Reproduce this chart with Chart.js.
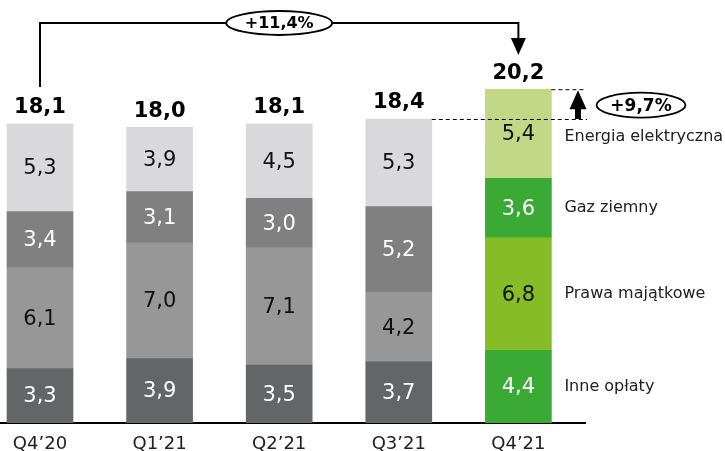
<!DOCTYPE html>
<html><head><meta charset="utf-8">
<script src="https://cdn.jsdelivr.net/npm/chart.js@4"></script>
<style>html,body{margin:0;padding:0;background:#fff;overflow:hidden}</style>
</head><body>
<canvas id="c" width="725" height="451"></canvas>
<script>
const categories = ["Q4’20", "Q1’21", "Q2’21", "Q3’21", "Q4’21"];
const inneOplaty = [3.3, 3.9, 3.5, 3.7, 4.4];
const prawaMajatkowe = [6.1, 7.0, 7.1, 4.2, 6.8];
const gazZiemny = [3.4, 3.1, 3.0, 5.2, 3.6];
const energiaElektryczna = [5.3, 3.9, 4.5, 5.3, 5.4];
const totals = [18.1, 18.0, 18.1, 18.4, 20.2];
const seriesNames = ["Inne opłaty", "Prawa majątkowe", "Gaz ziemny", "Energia elektryczna"];
const totalChangeLabel = "+11,4%";
const lastChangeLabel = "+9,7%";

const seriesValues = [inneOplaty, prawaMajatkowe, gazZiemny, energiaElektryczna];
const greyColors = ['#646567', '#979797', '#808080', '#d9d9db'];
const greenColors = ['#3aaa35', '#86bc25', '#3aaa35', '#c2d886'];
const textColors = ['#ffffff', '#111111', '#ffffff', '#111111'];
const FONT = '"DejaVu Sans", Verdana, sans-serif';
const fmt = v => v.toFixed(1).replace('.', ',');
const BAR_W = 66;

const datasets = seriesValues.map((vals, k) => ({
  label: seriesNames[k],
  data: vals.map((v, i) => ({x: i, y: v})),
  backgroundColor: vals.map((v, i) => i === vals.length - 1 ? greenColors[k] : greyColors[k]),
  borderWidth: 0,
  barThickness: BAR_W,
  stack: 's'
}));

function arrowHead(ctx, x, y, dir, w, h) {
  ctx.beginPath();
  ctx.moveTo(x, y);
  ctx.lineTo(x - w / 2, y - dir * h);
  ctx.lineTo(x + w / 2, y - dir * h);
  ctx.closePath();
  ctx.fill();
}
function oval(ctx, cx, cy, rx, ry, text, size) {
  ctx.save();
  ctx.beginPath();
  ctx.ellipse(cx, cy, rx, ry, 0, 0, Math.PI * 2);
  ctx.fillStyle = '#fff';
  ctx.fill();
  ctx.lineWidth = 1.8;
  ctx.strokeStyle = '#000';
  ctx.stroke();
  ctx.fillStyle = '#000';
  ctx.font = 'bold ' + size + 'px ' + FONT;
  ctx.textAlign = 'center';
  ctx.textBaseline = 'middle';
  ctx.fillText(text, cx, cy + 1);
  ctx.restore();
}

const overlay = {
  id: 'overlay',
  afterDatasetsDraw(chart) {
    const ctx = chart.ctx;
    const xs = chart.scales.x, ys = chart.scales.y;
    ctx.save();
    chart.data.datasets.forEach((ds, k) => {
      const meta = chart.getDatasetMeta(k);
      meta.data.forEach((el, i) => {
        ctx.font = '21px ' + FONT;
        ctx.fillStyle = textColors[k];
        ctx.textAlign = 'center';
        ctx.textBaseline = 'middle';
        ctx.fillText(fmt(seriesValues[k][i]), el.x, (el.y + el.base) / 2 + 1);
      });
    });
    const tops = totals.map((t, i) => {
      let s = 0; seriesValues.forEach(a => s += a[i]);
      return ys.getPixelForValue(s);
    });
    totals.forEach((t, i) => {
      ctx.font = 'bold 21px ' + FONT;
      ctx.fillStyle = '#000';
      ctx.textAlign = 'center';
      ctx.textBaseline = 'middle';
      ctx.fillText(fmt(t), xs.getPixelForValue(i), tops[i] - 16);
    });
    const last = categories.length - 1;
    const lastBarRight = xs.getPixelForValue(last) + BAR_W / 2;
    chart.data.datasets.forEach((ds, k) => {
      const el = chart.getDatasetMeta(k).data[last];
      ctx.font = '16px ' + FONT;
      ctx.fillStyle = '#222';
      ctx.textAlign = 'left';
      ctx.textBaseline = 'middle';
      ctx.fillText(seriesNames[k], lastBarRight + 13, (el.y + el.base) / 2 + (k === 3 ? 3 : 0));
    });
    const x0 = xs.getPixelForValue(0), x4 = xs.getPixelForValue(last);
    const yLine = 23;
    ctx.strokeStyle = '#000';
    ctx.fillStyle = '#000';
    ctx.lineWidth = 2;
    ctx.beginPath();
    ctx.moveTo(x0, tops[0] - 37);
    ctx.lineTo(x0, yLine);
    ctx.lineTo(x4, yLine);
    ctx.lineTo(x4, 40);
    ctx.stroke();
    arrowHead(ctx, x4, 55, 1, 15, 17);
    oval(ctx, (x0 + x4) / 2, yLine, 53, 12, totalChangeLabel, 16);
    const prevTop = tops[last - 1], lastTop = tops[last];
    const prevRight = xs.getPixelForValue(last - 1) + BAR_W / 2;
    ctx.lineWidth = 1;
    ctx.setLineDash([4, 3]);
    ctx.beginPath();
    ctx.moveTo(prevRight, prevTop + 0.5); ctx.lineTo(587, prevTop + 0.5);
    ctx.moveTo(lastBarRight, lastTop + 0.5); ctx.lineTo(584, lastTop + 0.5);
    ctx.stroke();
    ctx.setLineDash([]);
    const ax = 578;
    ctx.lineWidth = 6;
    ctx.beginPath();
    ctx.moveTo(ax, prevTop);
    ctx.lineTo(ax, lastTop + 16);
    ctx.stroke();
    arrowHead(ctx, ax, lastTop + 1, -1, 17, 19);
    oval(ctx, 641, (prevTop + lastTop) / 2 + 1, 44.5, 12.5, lastChangeLabel, 17);
    ctx.restore();
  }
};

new Chart(document.getElementById('c'), {
  type: 'bar',
  data: { datasets },
  options: {
    responsive: false,
    animation: false,
    layout: { padding: { left: 0, right: 140, top: 0, bottom: 0 } },
    plugins: { legend: { display: false }, tooltip: { enabled: false } },
    scales: {
      x: {
        type: 'linear',
        offset: false,
        min: -0.3344,
        max: 4.557,
        grid: { display: false },
        border: { display: true, color: '#000', width: 2 },
        afterBuildTicks: s => { s.ticks = categories.map((c, i) => ({ value: i })); },
        afterFit: s => { s.height = 28; },
        ticks: {
          autoSkip: false,
          maxRotation: 0,
          padding: 3,
          color: '#222',
          font: { family: FONT, size: 18 },
          callback: v => categories[v]
        }
      },
      y: { display: false, min: 0, max: 25.6 }
    }
  },
  plugins: [overlay]
});
</script>
</body></html>
